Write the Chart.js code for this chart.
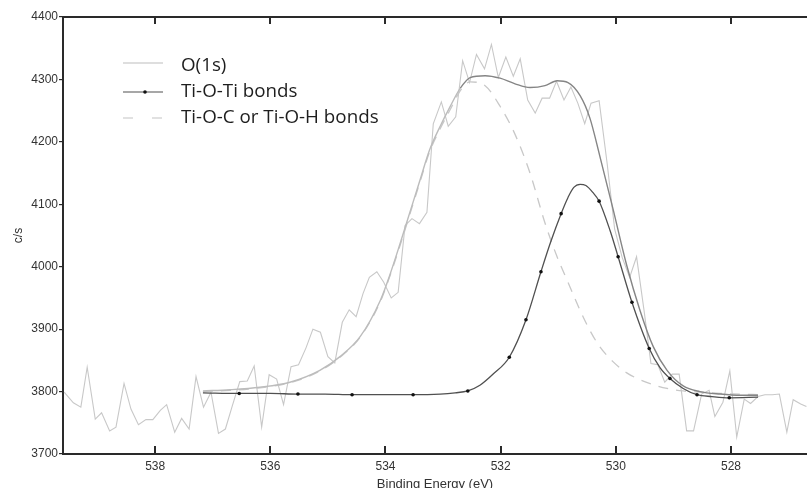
<!DOCTYPE html>
<html>
<head>
<meta charset="utf-8">
<script src="https://cdn.jsdelivr.net/npm/chart.js@4/dist/chart.umd.min.js"></script>
<style>
  html, body { margin: 0; padding: 0; background: #fff; }
  #wrap { width: 807px; height: 488px; position: relative; }
</style>
</head>
<body>
<div id="wrap"><canvas id="xps"></canvas></div>
<script>
// Measured O(1s) spectrum (noisy trace)
const rawEnergy = [539.58, 539.42, 539.29, 539.18, 539.04, 538.93, 538.79, 538.68, 538.54, 538.42,
  538.29, 538.16, 538.04, 537.91, 537.80, 537.66, 537.54, 537.41, 537.29, 537.16,
  537.03, 536.90, 536.78, 536.66, 536.53, 536.40, 536.28, 536.15, 536.02, 535.89,
  535.77, 535.64, 535.51, 535.38, 535.26, 535.13, 535.00, 534.88, 534.75, 534.63,
  534.51, 534.39, 534.28, 534.15, 534.03, 533.90, 533.78, 533.66, 533.54, 533.41,
  533.28, 533.17, 533.03, 532.91, 532.78, 532.66, 532.54, 532.42, 532.28, 532.16,
  532.04, 531.91, 531.78, 531.66, 531.53, 531.40, 531.28, 531.15, 531.03, 530.90,
  530.78, 530.66, 530.54, 530.43, 530.29, 530.15, 530.02, 529.89, 529.76, 529.64,
  529.51, 529.39, 529.27, 529.15, 529.02, 528.90, 528.77, 528.65, 528.51, 528.38,
  528.28, 528.14, 528.02, 527.90, 527.77, 527.66, 527.53, 527.41, 527.28, 527.16,
  527.03, 526.92, 526.79, 526.69];
const rawCounts = [3799, 3782, 3775, 3839, 3756, 3766, 3737, 3743, 3813, 3772,
  3747, 3755, 3755, 3770, 3779, 3735, 3757, 3740, 3824, 3775,
  3799, 3733, 3740, 3777, 3816, 3817, 3841, 3743, 3827, 3820,
  3779, 3840, 3843, 3870, 3900, 3895, 3856, 3846, 3911, 3931,
  3920, 3957, 3983, 3992, 3975, 3950, 3959, 4066, 4077, 4069,
  4087, 4229, 4264, 4225, 4240, 4330, 4295, 4340, 4317, 4356,
  4303, 4336, 4305, 4333, 4267, 4246, 4270, 4270, 4297, 4267,
  4288, 4262, 4229, 4262, 4266, 4165, 4060, 4015, 3983, 4016,
  3930, 3845, 3843, 3815, 3828, 3828, 3737, 3737, 3796, 3802,
  3760, 3783, 3833, 3727, 3788, 3781, 3792, 3795, 3795, 3796,
  3735, 3787, 3780, 3776];

// Fit envelope and the Ti-O-C / Ti-O-H component share one energy grid
const fitEnergy = [537.17, 536.70, 536.18, 535.66, 535.14, 534.79, 534.44, 534.09, 533.92, 533.75,
  533.57, 533.40, 533.23, 533.05, 532.88, 532.70, 532.53, 532.27, 532.01, 531.75,
  531.49, 531.23, 531.02, 530.83, 530.62, 530.45, 530.28, 530.05, 529.81, 529.58,
  529.35, 529.11, 528.83, 528.54, 528.19, 527.84, 527.53];
const envelopeCounts = [3801, 3803, 3807, 3815, 3834, 3856, 3888, 3946, 3988, 4036,
  4089, 4139, 4188, 4225, 4256, 4286, 4303, 4306, 4302, 4293,
  4287, 4290, 4298, 4295, 4274, 4238, 4178, 4093, 4002, 3930,
  3872, 3834, 3809, 3800, 3796, 3794, 3794];
const tiOcCounts = [3800, 3802, 3806, 3814, 3833, 3855, 3887, 3944, 3986, 4033,
  4086, 4136, 4185, 4221, 4251, 4282, 4296, 4290, 4257, 4212,
  4150, 4070, 4016, 3975, 3930, 3898, 3872, 3848, 3830, 3819,
  3811, 3805, 3801, 3799, 3797, 3796, 3795];

// Ti-O-Ti component
const tiEnergy = [537.17, 536.54, 536.00, 535.52, 535.05, 534.58, 534.04, 533.52, 533.05, 532.79,
  532.57, 532.36, 532.13, 531.85, 531.56, 531.30, 531.13, 530.95, 530.83, 530.73,
  530.62, 530.52, 530.40, 530.29, 530.10, 529.96, 529.72, 529.42, 529.23, 529.06,
  528.83, 528.59, 528.33, 528.03, 527.53];
const tiCounts = [3798, 3797, 3797, 3796, 3796, 3795, 3795, 3795, 3796, 3798,
  3801, 3810, 3828, 3855, 3915, 3992, 4040, 4085, 4111, 4127,
  4132, 4130, 4119, 4105, 4058, 4016, 3943, 3869, 3838, 3821,
  3805, 3795, 3792, 3790, 3791];
const tiMarkerEnergy = [536.54, 535.52, 534.58, 533.52, 532.57, 531.85, 531.56, 531.30,
  530.95, 530.29, 529.96, 529.72, 529.42, 529.06, 528.59, 528.03];

const energyTicks = [538, 536, 534, 532, 530, 528];
const countTicks = [3700, 3800, 3900, 4000, 4100, 4200, 4300, 4400];
const legendLabels = ["O(1s)", "Ti-O-Ti bonds", "Ti-O-C or Ti-O-H bonds"];

const toPoints = (xs, ys) => xs.map((x, i) => ({ x, y: ys[i] }));

const lightGray = "#c8c8c8";
const axisColor = "#2a2a2a";

const frameTicks = {
  id: "frameTicks",
  afterDatasetsDraw(chart) {
    const { ctx, chartArea } = chart;
    const xScale = chart.scales.x;
    ctx.save();
    ctx.strokeStyle = axisColor;
    ctx.lineWidth = 2;
    // top frame line
    ctx.beginPath();
    ctx.moveTo(chartArea.left - 1, chartArea.top);
    ctx.lineTo(chartArea.right, chartArea.top);
    ctx.stroke();
    // inward tick marks on top and bottom
    energyTicks.forEach((value) => {
      const px = Math.round(xScale.getPixelForValue(value));
      ctx.beginPath();
      ctx.moveTo(px, chartArea.top);
      ctx.lineTo(px, chartArea.top + 7);
      ctx.moveTo(px, chartArea.bottom);
      ctx.lineTo(px, chartArea.bottom - 8);
      ctx.stroke();
    });
    ctx.restore();
  }
};

const insetLegend = {
  id: "insetLegend",
  afterDraw(chart) {
    const { ctx, chartArea } = chart;
    const x0 = chartArea.left + 60;
    const x1 = x0 + 40;
    const tx = chartArea.left + 118;
    const rows = [
      { y: 63, ty: 66, color: "#bdbdbd", dash: [], marker: false },
      { y: 92, ty: 92, color: "#505050", dash: [], marker: true },
      { y: 118, ty: 118, color: "#c4c4c4", dash: [10, 19], marker: false }
    ];
    ctx.save();
    rows.forEach((row, i) => {
      ctx.strokeStyle = row.color;
      ctx.lineWidth = 1.2;
      ctx.setLineDash(row.dash);
      ctx.beginPath();
      ctx.moveTo(x0, row.y);
      ctx.lineTo(x1, row.y);
      ctx.stroke();
      ctx.setLineDash([]);
      if (row.marker) {
        ctx.fillStyle = "#111";
        ctx.beginPath();
        ctx.arc((x0 + x1) / 2 + 2, row.y, 1.8, 0, Math.PI * 2);
        ctx.fill();
      }
      ctx.fillStyle = "#1e1e1e";
      ctx.font = '18.8px "Open Sans", "Noto Sans", sans-serif';
      ctx.textBaseline = "middle";
      ctx.textAlign = "left";
      ctx.fillText(legendLabels[i], tx, row.ty);
    });
    ctx.restore();
  }
};

const tickFont = { family: '"Liberation Sans", Arial, sans-serif', size: 12 };

new Chart(document.getElementById("xps"), {
  type: "line",
  data: {
    datasets: [
      {
        label: "Ti-O-Ti bonds",
        data: toPoints(tiEnergy, tiCounts),
        borderColor: "#505050",
        borderWidth: 1.3,
        cubicInterpolationMode: "monotone",
        pointRadius: (c) => (tiMarkerEnergy.includes(tiEnergy[c.dataIndex]) ? 1.8 : 0),
        pointBackgroundColor: "#111",
        pointBorderWidth: 0,
        order: 1
      },
      {
        label: "Envelope",
        data: toPoints(fitEnergy, envelopeCounts),
        borderColor: "#858585",
        borderWidth: 1.4,
        cubicInterpolationMode: "monotone",
        pointRadius: 0,
        segment: {
          borderColor: (c) => (c.p0.parsed.x > 532.75 ? "#bcbcbc" : "#858585")
        },
        order: 2
      },
      {
        label: "Ti-O-C or Ti-O-H bonds",
        data: toPoints(fitEnergy, tiOcCounts),
        borderColor: lightGray,
        borderWidth: 1.3,
        borderDash: [10, 8],
        cubicInterpolationMode: "monotone",
        pointRadius: 0,
        order: 3
      },
      {
        label: "O(1s)",
        data: toPoints(rawEnergy, rawCounts),
        borderColor: lightGray,
        borderWidth: 1.1,
        tension: 0,
        pointRadius: 0,
        order: 4
      }
    ]
  },
  options: {
    responsive: true,
    maintainAspectRatio: false,
    animation: false,
    layout: { padding: { top: 17, right: 0, left: 0, bottom: 0 } },
    plugins: {
      legend: { display: false },
      tooltip: { enabled: false }
    },
    scales: {
      x: {
        type: "linear",
        reverse: true,
        min: 526.68,
        max: 539.6,
        afterBuildTicks: (scale) => {
          scale.ticks = energyTicks.map((value) => ({ value }));
        },
        afterFit: (scale) => { scale.height = 34; },
        grid: { display: false },
        border: { display: true, color: axisColor, width: 2 },
        ticks: {
          font: tickFont,
          color: "#333",
          padding: -3,
          maxRotation: 0,
          callback: (value) => String(value)
        },
        title: {
          display: true,
          text: "Binding Energy (eV)",
          color: "#333",
          font: { family: '"Liberation Sans", Arial, sans-serif', size: 13, lineHeight: 1 },
          padding: { top: 0, bottom: -3 }
        }
      },
      y: {
        min: 3700,
        max: 4400,
        afterBuildTicks: (scale) => {
          scale.ticks = countTicks.map((value) => ({ value }));
        },
        afterFit: (scale) => { scale.width = 63; },
        grid: {
          display: true,
          drawOnChartArea: false,
          drawTicks: true,
          tickLength: 4,
          color: axisColor,
          lineWidth: 1.2
        },
        border: { display: true, color: axisColor, width: 2 },
        ticks: {
          font: tickFont,
          color: "#333",
          padding: 1,
          callback: (value) => String(value)
        },
        title: {
          display: true,
          text: "c/s",
          color: "#333",
          font: { family: '"Liberation Sans", Arial, sans-serif', size: 12 },
          padding: { top: 11, bottom: 0 }
        }
      }
    }
  },
  plugins: [frameTicks, insetLegend]
});
</script>
</body>
</html>
